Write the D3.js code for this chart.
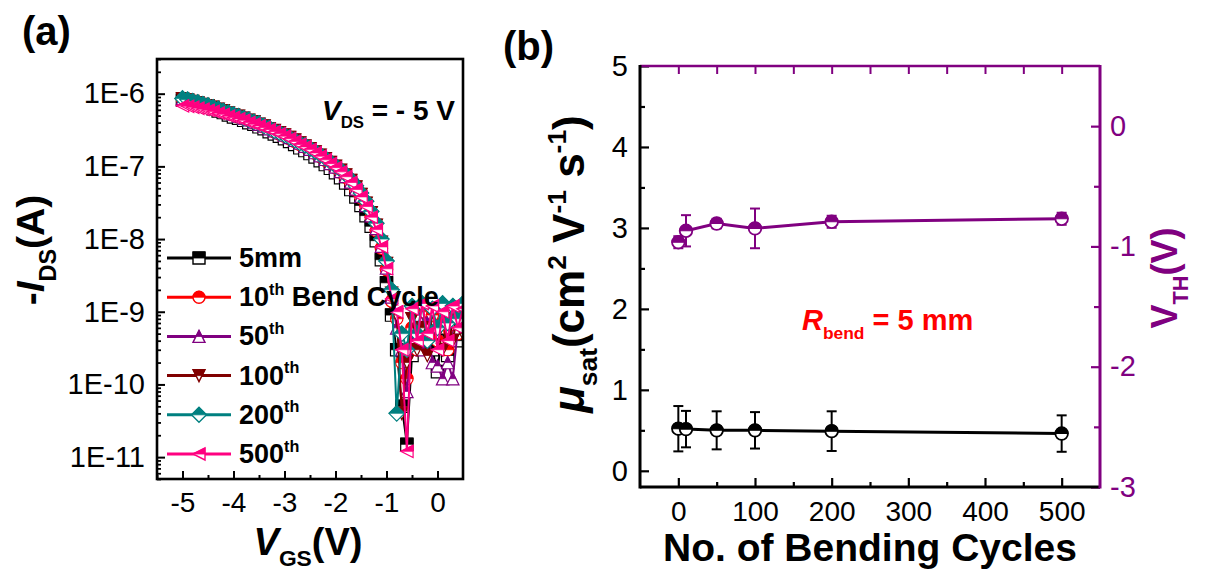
<!DOCTYPE html>
<html><head><meta charset="utf-8">
<script src="https://cdn.jsdelivr.net/npm/d3@7"></script>
<style>
body{margin:0;background:#fff;}
svg{display:block;font-family:"Liberation Sans",Arial,sans-serif;}
text{white-space:pre;}
</style>
</head><body>
<svg id="c" width="1206" height="572"></svg>
<script>
// ---------------- DATA: panel (a) transfer curves ----------------
const vgs = [-5.0,-4.9,-4.8,-4.7,-4.6,-4.5,-4.4,-4.3,-4.2,-4.1,-4.0,-3.9,-3.8,-3.7,-3.6,-3.5,-3.4,-3.3,-3.2,-3.1,-3.0,-2.9,-2.8,-2.7,-2.6,-2.5,-2.4,-2.3,-2.2,-2.1,-2.0,-1.9,-1.8,-1.7,-1.6,-1.5,-1.4,-1.3,-1.2,-1.1,-1.0,-0.9,-0.8,-0.7,-0.6,-0.5,-0.4,-0.3,-0.2,-0.1,0.0,0.1,0.2,0.3,0.4,0.5];
const ids5mm = [8.2e-7,7.9e-7,7.5e-7,7.2e-7,6.8e-7,6.5e-7,6.2e-7,5.8e-7,5.5e-7,5.1e-7,4.8e-7,4.6e-7,4.3e-7,4.0e-7,3.8e-7,3.5e-7,3.3e-7,3.0e-7,2.8e-7,2.6e-7,2.4e-7,2.2e-7,2.0e-7,1.8e-7,1.65e-7,1.5e-7,1.35e-7,1.2e-7,1.06e-7,9.4e-8,8.2e-8,7.0e-8,5.9e-8,4.8e-8,3.8e-8,2.9e-8,2.1e-8,1.5e-8,9.5e-9,5.2e-9,2.5e-9,9e-10,3e-10,5e-11,1.5e-11,2.5e-10,6e-10,4e-10,8e-10,3e-10,1.5e-10,6e-10,2.5e-10,9e-10,4e-10,7e-10];
const ids10 = [8.4e-7,8.1e-7,7.8e-7,7.4e-7,7.1e-7,6.8e-7,6.4e-7,6.1e-7,5.7e-7,5.4e-7,5.1e-7,4.8e-7,4.5e-7,4.3e-7,4.0e-7,3.8e-7,3.5e-7,3.3e-7,3.0e-7,2.8e-7,2.6e-7,2.4e-7,2.2e-7,2.0e-7,1.85e-7,1.7e-7,1.52e-7,1.37e-7,1.22e-7,1.08e-7,9.6e-8,8.3e-8,7.1e-8,5.9e-8,4.7e-8,3.7e-8,2.8e-8,2.0e-8,1.3e-8,7.5e-9,3.8e-9,1.4e-9,8e-10,2e-10,1.2e-10,6e-10,3e-10,1e-9,5e-10,9e-10,4e-10,7e-10,3e-10,1.1e-9,5e-10,8e-10];
const ids50 = [8.6e-7,8.3e-7,7.9e-7,7.6e-7,7.2e-7,6.9e-7,6.6e-7,6.2e-7,5.9e-7,5.5e-7,5.2e-7,4.9e-7,4.6e-7,4.4e-7,4.1e-7,3.8e-7,3.6e-7,3.3e-7,3.1e-7,2.9e-7,2.7e-7,2.5e-7,2.3e-7,2.1e-7,1.9e-7,1.72e-7,1.55e-7,1.4e-7,1.25e-7,1.1e-7,9.8e-8,8.5e-8,7.3e-8,6.1e-8,4.9e-8,3.9e-8,2.9e-8,2.1e-8,1.4e-8,8.0e-9,4.0e-9,1.6e-9,6e-10,3e-10,8e-11,4e-10,9e-10,3e-10,7e-10,2e-10,1.8e-10,1.2e-10,2e-10,1.2e-10,6e-10,9e-10];
const ids100 = [8.5e-7,8.2e-7,7.8e-7,7.5e-7,7.1e-7,6.8e-7,6.5e-7,6.1e-7,5.8e-7,5.4e-7,5.1e-7,4.9e-7,4.6e-7,4.3e-7,4.1e-7,3.8e-7,3.6e-7,3.3e-7,3.1e-7,2.9e-7,2.7e-7,2.5e-7,2.3e-7,2.1e-7,1.9e-7,1.75e-7,1.58e-7,1.42e-7,1.27e-7,1.13e-7,1.0e-7,8.8e-8,7.6e-8,6.4e-8,5.2e-8,4.1e-8,3.1e-8,2.3e-8,1.55e-8,9.0e-9,4.6e-9,1.8e-9,9e-10,4e-11,2e-10,8e-10,3e-10,6e-10,2.5e-10,1e-9,5e-10,3e-10,8e-10,4e-10,1e-9,5e-10];
const ids200 = [8.6e-7,8.3e-7,7.9e-7,7.6e-7,7.2e-7,6.9e-7,6.5e-7,6.2e-7,5.8e-7,5.5e-7,5.2e-7,4.9e-7,4.6e-7,4.4e-7,4.1e-7,3.9e-7,3.6e-7,3.4e-7,3.1e-7,2.9e-7,2.7e-7,2.5e-7,2.3e-7,2.1e-7,1.95e-7,1.78e-7,1.6e-7,1.45e-7,1.3e-7,1.15e-7,1.02e-7,9.0e-8,7.8e-8,6.6e-8,5.4e-8,4.3e-8,3.3e-8,2.4e-8,1.65e-8,1.0e-8,5.0e-9,2.0e-9,4e-11,5e-10,3e-10,1.2e-9,5e-10,1.3e-9,4e-10,1.1e-9,6e-10,1.3e-9,7e-10,1.2e-9,8e-10,1.3e-9];
const ids500 = [6.8e-7,6.7e-7,6.5e-7,6.3e-7,6.1e-7,5.9e-7,5.7e-7,5.4e-7,5.2e-7,4.9e-7,4.7e-7,4.5e-7,4.3e-7,4.0e-7,3.8e-7,3.6e-7,3.4e-7,3.2e-7,3.0e-7,2.8e-7,2.6e-7,2.4e-7,2.2e-7,2.0e-7,1.85e-7,1.7e-7,1.53e-7,1.38e-7,1.23e-7,1.09e-7,9.6e-8,8.4e-8,7.2e-8,6.0e-8,4.8e-8,3.8e-8,2.8e-8,2.0e-8,1.35e-8,7.8e-9,3.9e-9,1.5e-9,1e-9,3e-10,1.2e-11,1.1e-9,4e-10,1.3e-9,5e-10,1.2e-9,3e-10,1e-9,4e-10,1.2e-9,6e-10,1.1e-9];
const seriesA = [ids5mm, ids10, ids50, ids100, ids200, ids500];
const legendMain = ["5mm", "10", "50", "100", "200", "500"];
const legendSup  = ["", "th", "th", "th", "th", "th"];
const legendRest = ["", " Bend Cycle", "", "", "", ""];
const xTicksA = [-5, -4, -3, -2, -1, 0];
const yTicksA = [1e-11, 1e-10, 1e-9, 1e-8, 1e-7, 1e-6];
const yTickLabelsA = ["1E-11", "1E-10", "1E-9", "1E-8", "1E-7", "1E-6"];

// ---------------- DATA: panel (b) bending cycles ----------------
const cycles = [0, 10, 50, 100, 200, 500];
const muSat = [0.52, 0.515, 0.50, 0.50, 0.49, 0.46];
const muErr = [0.28, 0.225, 0.235, 0.225, 0.245, 0.225];
const vth = [-0.965, -0.87, -0.81, -0.85, -0.795, -0.77];
const vthErr = [0.05, 0.13, 0.04, 0.165, 0.05, 0.05];
const xTicksB = [0, 100, 200, 300, 400, 500];
const yTicksB = [0, 1, 2, 3, 4, 5];
const yTicksR = [0, -1, -2, -3];

// ---------------- styles ----------------
const colorsA = ["#000000", "#ff0000", "#800080", "#800000", "#008080", "#ff0080"];
const shapesA = ["square", "circle", "triUp", "triDown", "diamond", "triLeft"];
const PURPLE = "#800080";

const svg = d3.select("#c");

function shapePaths(type, a) {
  switch (type) {
    case "square": return [`M${-a},${-a}H${a}V${a}H${-a}Z`, `M${-a},${-a}H${a}V0H${-a}Z`];
    case "circle": return [`M${-a},0A${a},${a} 0 1,1 ${a},0A${a},${a} 0 1,1 ${-a},0Z`, `M${-a},0A${a},${a} 0 0,1 ${a},0Z`];
    case "triUp": return [`M0,${-a}L${a},${a}L${-a},${a}Z`, `M0,${-a}L${a/2},0L${-a/2},0Z`];
    case "triDown": return [`M${-a},${-a}L${a},${-a}L0,${a}Z`, `M${-a},${-a}L${a},${-a}L${a/2},0L${-a/2},0Z`];
    case "diamond": { const b = a * 1.25; return [`M0,${-b}L${b},0L0,${b}L${-b},0Z`, `M0,${-b}L${b},0L${-b},0Z`]; }
    case "triLeft": return [`M${-a},0L${a},${-a}L${a},${a}Z`, `M${-a},0L${a},${-a}L${a},0Z`];
  }
}
function marker(g, x, y, type, a, color, sw) {
  const p = shapePaths(type, a);
  const m = g.append("g").attr("transform", `translate(${x},${y})`);
  m.append("path").attr("d", p[0]).attr("fill", "#fff").attr("stroke", color).attr("stroke-width", sw);
  m.append("path").attr("d", p[1]).attr("fill", color).attr("stroke", color).attr("stroke-width", sw * 0.6);
}
// rich text: parts = [[text, mode('', 'sub', 'sup'), style('', 'i')], ...]
function rich(g, parts, size) {
  const t = g.append("text").attr("font-size", size);
  let shift = 0;
  parts.forEach(([txt, mode, st]) => {
    const target = mode === "sub" ? size * 0.3 : mode === "sup" ? -size * 0.42 : 0;
    const ts = t.append("tspan").text(txt).attr("dy", target - shift);
    if (mode) ts.attr("font-size", size * 0.6);
    if (st === "i") ts.attr("font-style", "italic");
    shift = target;
  });
  return t;
}
function styleAxis(g, color, sw, size) {
  g.select(".domain").remove();
  g.attr("font-family", null).attr("font-size", size);
  g.selectAll(".tick line").attr("stroke", color).attr("stroke-width", sw);
  g.selectAll(".tick text").attr("fill", color);
}

// ================= PANEL (a) =================
const A = {l: 157, r: 463, t: 59, b: 479};
const xa = d3.scaleLinear().domain([-5.5, 0.5]).range([A.l, A.r]);
const ya = d3.scaleLog().domain([5e-12, 3e-6]).range([A.b, A.t]);

svg.append("defs").append("clipPath").attr("id", "clipA")
  .append("rect").attr("x", A.l).attr("y", A.t).attr("width", A.r - A.l).attr("height", A.b - A.t);

const dataA = svg.append("g").attr("clip-path", "url(#clipA)");
const lineA = d3.line().x(d => xa(d[0])).y(d => ya(d[1]));
seriesA.forEach((s, i) => {
  const pts = vgs.map((v, k) => [v, s[k]]);
  const g = dataA.append("g");
  g.append("path").attr("d", lineA(pts)).attr("fill", "none").attr("stroke", colorsA[i]).attr("stroke-width", 2);
  pts.forEach(p => marker(g, xa(p[0]), ya(p[1]), shapesA[i], 6.2, colorsA[i], 1.2));
});

// axes (a)
const minorX = [-5.5, -4.5, -3.5, -2.5, -1.5, -0.5];
svg.append("g").attr("transform", `translate(0,${A.b})`)
  .call(d3.axisBottom(xa).tickValues(xTicksA).tickSize(-8).tickPadding(13).tickFormat(d => d))
  .call(g => styleAxis(g, "#000", 2, 28));
svg.append("g").attr("transform", `translate(0,${A.b})`)
  .call(d3.axisBottom(xa).tickValues(minorX).tickSize(-4).tickFormat(""))
  .call(g => styleAxis(g, "#000", 2, 28));
const minorY = [];
[1e-12, 1e-11, 1e-10, 1e-9, 1e-8, 1e-7, 1e-6].forEach(dec => {
  [2, 3, 4, 5, 6, 7, 8, 9].forEach(m => { const v = m * dec; if (v >= 5e-12 && v <= 3e-6) minorY.push(v); });
});
svg.append("g").attr("transform", `translate(${A.l},0)`)
  .call(d3.axisLeft(ya).tickValues(yTicksA).tickSize(-8).tickPadding(12).tickFormat((d, i) => yTickLabelsA[i]))
  .call(g => styleAxis(g, "#000", 2, 29));
svg.append("g").attr("transform", `translate(${A.l},0)`)
  .call(d3.axisLeft(ya).tickValues(minorY).tickSize(-4).tickFormat(""))
  .call(g => styleAxis(g, "#000", 1.8, 29));
svg.append("rect").attr("x", A.l).attr("y", A.t).attr("width", A.r - A.l).attr("height", A.b - A.t)
  .attr("fill", "none").attr("stroke", "#000").attr("stroke-width", 2.6);

// legend (a)
const leg = svg.append("g");
seriesA.forEach((s, i) => {
  const y = 258 + i * 39.2;
  leg.append("line").attr("x1", 167).attr("x2", 231).attr("y1", y).attr("y2", y)
    .attr("stroke", colorsA[i]).attr("stroke-width", 3);
  marker(leg, 199, y, shapesA[i], 6, colorsA[i], 1.4);
  rich(leg, [[legendMain[i], ""], [legendSup[i], "sup"], [legendRest[i], ""]], 27)
    .attr("x", 239).attr("y", y + 9).attr("font-weight", "bold");
});

// texts (a)
rich(svg, [["(a)", ""]], 40).attr("x", 22).attr("y", 45).attr("font-weight", "bold");
rich(svg, [["V", "", "i"], ["DS", "sub"], [" = - 5 V", ""]], 28)
  .attr("x", 455).attr("y", 120).attr("text-anchor", "end").attr("font-weight", "bold");
rich(svg, [["V", "", "i"], ["GS", "sub"], ["(V)", ""]], 38)
  .attr("x", 308).attr("y", 555).attr("text-anchor", "middle").attr("font-weight", "bold");
rich(svg, [["-", ""], ["I", "", "i"], ["DS", "sub"], ["(A)", ""]], 39)
  .attr("transform", "translate(44,250) rotate(-90)").attr("text-anchor", "middle").attr("font-weight", "bold");

// ================= PANEL (b) =================
const B = {l: 640, r: 1100, t: 66, b: 487};
const xb = d3.scaleLinear().domain([-50, 550]).range([B.l, B.r]);
const yb = d3.scaleLinear().domain([-0.2, 5]).range([B.b, B.t]);
const yr = d3.scaleLinear().domain([-3, 0.5]).range([B.b, B.t]);

// top axis ticks (purple)
svg.append("g").attr("transform", `translate(0,${B.t})`)
  .call(d3.axisTop(xb).tickValues([0, 50, 100, 150, 200, 250, 300, 350, 400, 450, 500]).tickSize(-8).tickFormat(""))
  .call(g => styleAxis(g, PURPLE, 2, 28));
// bottom axis
svg.append("g").attr("transform", `translate(0,${B.b})`)
  .call(d3.axisBottom(xb).tickValues(xTicksB).tickSize(-9).tickPadding(14).tickFormat(d => d))
  .call(g => styleAxis(g, "#000", 2.2, 28));
svg.append("g").attr("transform", `translate(0,${B.b})`)
  .call(d3.axisBottom(xb).tickValues([50, 150, 250, 350, 450]).tickSize(-5).tickFormat(""))
  .call(g => styleAxis(g, "#000", 2.2, 28));
// left axis
svg.append("g").attr("transform", `translate(${B.l},0)`)
  .call(d3.axisLeft(yb).tickValues(yTicksB).tickSize(-9).tickPadding(12).tickFormat(d => d))
  .call(g => styleAxis(g, "#000", 2.2, 29));
svg.append("g").attr("transform", `translate(${B.l},0)`)
  .call(d3.axisLeft(yb).tickValues([0.5, 1.5, 2.5, 3.5, 4.5]).tickSize(-5).tickFormat(""))
  .call(g => styleAxis(g, "#000", 2.2, 29));
// right axis
svg.append("g").attr("transform", `translate(${B.r},0)`)
  .call(d3.axisRight(yr).tickValues(yTicksR).tickSize(-9).tickPadding(10).tickFormat(d => d))
  .call(g => styleAxis(g, PURPLE, 2.2, 29));
svg.append("g").attr("transform", `translate(${B.r},0)`)
  .call(d3.axisRight(yr).tickValues([-0.5, -1.5, -2.5]).tickSize(-6).tickFormat(""))
  .call(g => styleAxis(g, PURPLE, 2.2, 29));
// frame lines
svg.append("line").attr("x1", B.l).attr("x2", B.r).attr("y1", B.t).attr("y2", B.t).attr("stroke", PURPLE).attr("stroke-width", 2.4);
svg.append("line").attr("x1", B.l).attr("x2", B.r).attr("y1", B.b).attr("y2", B.b).attr("stroke", "#000").attr("stroke-width", 3);
svg.append("line").attr("x1", B.l).attr("x2", B.l).attr("y1", B.t - 1).attr("y2", B.b + 1.5).attr("stroke", "#000").attr("stroke-width", 3);
svg.append("line").attr("x1", B.r).attr("x2", B.r).attr("y1", B.t - 1).attr("y2", B.b + 1.5).attr("stroke", PURPLE).attr("stroke-width", 3);

// data (b)
function drawSeriesB(vals, errs, yScale, color) {
  const g = svg.append("g");
  const pts = cycles.map((c, i) => [c, vals[i], errs[i]]);
  g.append("path").attr("d", d3.line().x(d => xb(d[0])).y(d => yScale(d[1]))(pts))
    .attr("fill", "none").attr("stroke", color).attr("stroke-width", 3);
  pts.forEach(d => {
    const x = xb(d[0]), y1 = yScale(d[1] + d[2]), y2 = yScale(d[1] - d[2]);
    g.append("line").attr("x1", x).attr("x2", x).attr("y1", y1).attr("y2", y2).attr("stroke", color).attr("stroke-width", 2);
    [y1, y2].forEach(yy => g.append("line").attr("x1", x - 5).attr("x2", x + 5).attr("y1", yy).attr("y2", yy)
      .attr("stroke", color).attr("stroke-width", 2));
  });
  pts.forEach(d => marker(g, xb(d[0]), yScale(d[1]), "circle", 6.3, color, 1.8));
}
drawSeriesB(muSat, muErr, yb, "#000");
drawSeriesB(vth, vthErr, yr, PURPLE);

// texts (b)
rich(svg, [["(b)", ""]], 40).attr("x", 503).attr("y", 60).attr("font-weight", "bold");
rich(svg, [["No. of Bending Cycles", ""]], 39)
  .attr("x", 870).attr("y", 561).attr("text-anchor", "middle").attr("font-weight", "bold");
rich(svg, [["R", "", "i"], ["bend", "sub"], [" = 5 mm", ""]], 29)
  .attr("x", 802).attr("y", 330).attr("fill", "#ff0000").attr("font-weight", "bold");
rich(svg, [["\u03bc", "", "i"], ["sat", "sub"], ["(cm", ""], ["2", "sup"], [" V", ""], ["-1", "sup"], [" s", ""], ["-1", "sup"], [")", ""]], 44)
  .attr("transform", "translate(584,264) rotate(-90)").attr("text-anchor", "middle").attr("font-weight", "bold");
rich(svg, [["V", ""], ["TH", "sub"], ["(V)", ""]], 36)
  .attr("transform", "translate(1177,278) rotate(-90)").attr("text-anchor", "middle").attr("font-weight", "bold").attr("fill", PURPLE);
</script>
</body></html>
